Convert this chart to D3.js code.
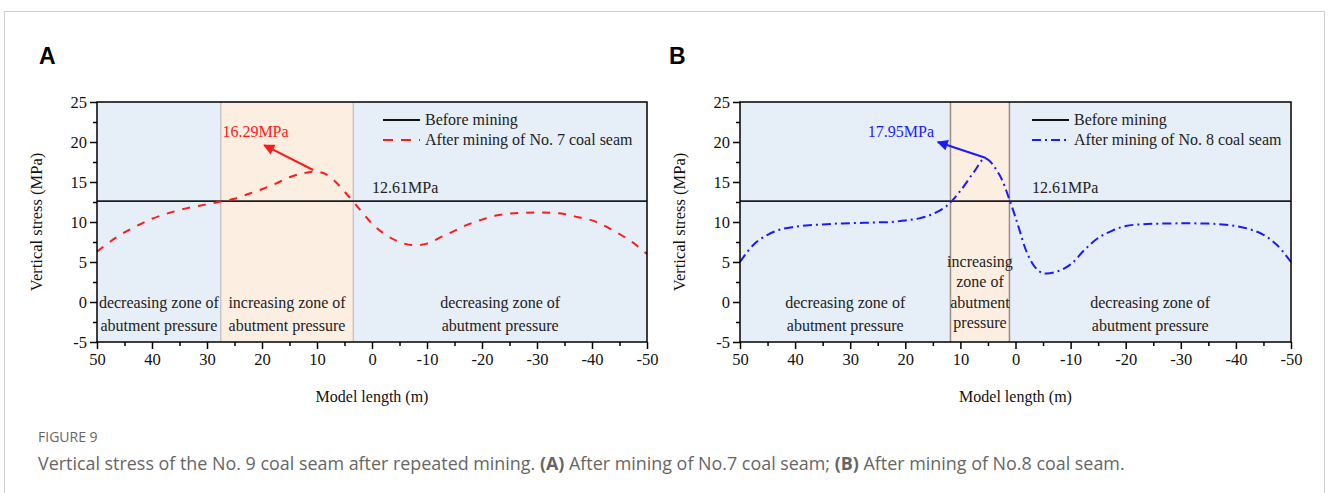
<!DOCTYPE html>
<html>
<head>
<meta charset="utf-8">
<script src="https://cdn.jsdelivr.net/npm/d3@7"></script>
<style>
  html, body { margin: 0; padding: 0; background: #fff; }
  svg { display: block; }
</style>
</head>
<body>
<svg id="fig" width="1328" height="493"></svg>
<script>
// Model length positions (m) and vertical stress (MPa)
const xA = [50, 47.5, 45, 42.5, 40, 37.5, 35, 32.5, 30, 27.5, 25, 22.5, 20, 17.5, 15, 12.5, 10.5, 8.75, 7, 5, 2.5, 0, -2.5, -5, -7.5, -10, -12.5, -15, -17.5, -20, -22.5, -25, -27.5, -30, -32.5, -35, -37.5, -40, -42.5, -45, -47.5, -50];
const stressA = [6.3, 7.6, 8.7, 9.6, 10.4, 11.0, 11.5, 11.9, 12.2, 12.55, 12.9, 13.5, 14.1, 14.8, 15.6, 16.1, 16.29, 16.1, 15.25, 13.8, 11.8, 9.8, 8.4, 7.5, 7.1, 7.3, 8.1, 8.9, 9.7, 10.3, 10.8, 11.05, 11.15, 11.2, 11.15, 11.0, 10.6, 10.2, 9.45, 8.5, 7.4, 6.0];

const xB = [50, 47.5, 45, 42.5, 40, 37.5, 35, 32.5, 30, 27.5, 25, 22.5, 20, 17.5, 15, 12.5, 10, 7.5, 5.5, 3, 1, -0.5, -2, -3.5, -5, -7.5, -10, -12.5, -15, -17.5, -20, -22.5, -25, -30, -35, -37.5, -40, -42.5, -45, -47.5, -50];
const stressB = [5.0, 7.2, 8.4, 9.1, 9.4, 9.6, 9.7, 9.8, 9.85, 9.9, 9.95, 10.0, 10.2, 10.45, 11.0, 12.0, 13.9, 16.3, 17.95, 16.0, 12.6, 9.5, 6.3, 4.4, 3.6, 3.8, 4.7, 6.5, 8.0, 8.9, 9.5, 9.7, 9.78, 9.83, 9.8, 9.7, 9.5, 9.1, 8.4, 7.1, 5.0];

const baseline = 12.61;
const xTicks = [50, 40, 30, 20, 10, 0, -10, -20, -30, -40, -50];
const yTicks = [-5, 0, 5, 10, 15, 20, 25];

// Zone boundaries (m) where the curves cross the pre-mining stress
const zonesA = [[50, 27.5, "dec"], [27.5, 3.4, "inc"], [3.4, -50, "dec"]];
const zonesB = [[50, 11.8, "dec"], [11.8, 1.1, "inc"], [1.1, -50, "dec"]];
const zoneLabelsA = [["decreasing zone of", "abutment pressure"], ["increasing zone of", "abutment pressure"], ["decreasing zone of", "abutment pressure"]];
const zoneLabelsB = [["decreasing zone of", "abutment pressure"], ["increasing", "zone of", "abutment", "pressure"], ["decreasing zone of", "abutment pressure"]];

const peakA = { label: "16.29MPa", lx: 27.2, ly: 20.6, ax0: 10.7, ay0: 16.5, ax1: 19.6, ay1: 19.6 };
const peakB = { label: "17.95MPa", lx: 26.8, ly: 20.6, ax0: 5.35, ay0: 18.0, ax1: 14.1, ay1: 20.0 };

const svg = d3.select("#fig");
const serif = "'Liberation Serif', 'Times New Roman', serif";
const sans = "'Open Sans', 'Noto Sans', sans-serif";

// Outer figure frame
svg.append("rect").attr("x", 4.5).attr("y", 11.5).attr("width", 1320).attr("height", 520)
  .attr("fill", "none").attr("stroke", "#cfcfcf").attr("stroke-width", 1);

const defs = svg.append("defs");
function arrowMarker(id, color) {
  defs.append("marker").attr("id", id).attr("viewBox", "0 0 10 10")
    .attr("refX", 9).attr("refY", 5).attr("markerWidth", 6).attr("markerHeight", 5.5)
    .attr("markerUnits", "strokeWidth").attr("orient", "auto")
    .append("path").attr("d", "M0,0 L10,5 L0,10 z").attr("fill", color);
}
arrowMarker("arrowRed", "#ff1a1a");
arrowMarker("arrowBlue", "#1a1aff");

function drawPanel(opt) {
  const g = svg.append("g");
  const x = d3.scaleLinear().domain([50, -50]).range([opt.left, opt.right]);
  const y = d3.scaleLinear().domain([-5, 25]).range([342, 102]);

  // Zone backgrounds
  opt.zones.forEach(z => {
    g.append("rect").attr("x", x(z[0])).attr("y", y(25))
      .attr("width", x(z[1]) - x(z[0])).attr("height", y(-5) - y(25))
      .attr("fill", z[2] === "inc" ? "#fdeee2" : "#e6eef7");
  });
  // Zone boundary lines
  opt.zones.slice(1).forEach(z => {
    g.append("line").attr("x1", x(z[0])).attr("x2", x(z[0])).attr("y1", y(25)).attr("y2", y(-5))
      .attr("stroke", opt.boundaryColor).attr("stroke-width", 1.5);
  });

  // Zone labels
  opt.zones.forEach((z, i) => {
    const lines = opt.zoneLabels[i];
    const cx = (x(z[0]) + x(z[1])) / 2;
    const t = g.append("text").attr("font-family", serif).attr("font-size", 16).attr("fill", "#222")
      .attr("text-anchor", "middle");
    const y0 = lines.length === 2 ? 308 : 267;
    const dy = lines.length === 2 ? 23 : 20.3;
    lines.forEach((s, j) => {
      t.append("tspan").attr("x", cx).attr("y", y0 + j * dy).text(s);
    });
  });

  // Pre-mining stress line
  g.append("line").attr("x1", x(50)).attr("x2", x(-50)).attr("y1", y(baseline)).attr("y2", y(baseline))
    .attr("stroke", "#1c1c24").attr("stroke-width", 1.6);
  g.append("text").attr("x", x(opt.baseLabelX)).attr("y", y(13.6))
    .attr("font-family", serif).attr("font-size", 16).attr("fill", "#222").text(baseline.toFixed(2) + "MPa");

  // Stress curve after mining
  const data = opt.xs.map((d, i) => [d, opt.vs[i]]);
  const line = d3.line().x(d => x(d[0])).y(d => y(d[1])).curve(d3.curveCatmullRom.alpha(0.5));
  g.append("path").datum(data).attr("d", line).attr("fill", "none")
    .attr("stroke", opt.color).attr("stroke-width", 2).attr("stroke-dasharray", opt.dash);

  // Peak annotation
  const p = opt.peak;
  g.append("text").attr("x", x(p.lx)).attr("y", y(p.ly)).attr("font-family", serif).attr("font-size", 16)
    .attr("fill", opt.color).text(p.label);
  g.append("line").attr("x1", x(p.ax0)).attr("y1", y(p.ay0)).attr("x2", x(p.ax1)).attr("y2", y(p.ay1))
    .attr("stroke", opt.color).attr("stroke-width", 2).attr("marker-end", `url(#${opt.marker})`);

  // Legend
  const lx = opt.legendX;
  g.append("line").attr("x1", lx).attr("x2", lx + 37).attr("y1", 120).attr("y2", 120)
    .attr("stroke", "#111").attr("stroke-width", 1.8);
  g.append("line").attr("x1", lx).attr("x2", lx + 37).attr("y1", 140).attr("y2", 140)
    .attr("stroke", opt.color).attr("stroke-width", 2).attr("stroke-dasharray", opt.legendDash);
  g.append("text").attr("x", lx + 42).attr("y", 125).attr("font-family", serif).attr("font-size", 16)
    .attr("fill", "#222").text("Before mining");
  g.append("text").attr("x", lx + 42).attr("y", 145).attr("font-family", serif).attr("font-size", 16)
    .attr("fill", "#222").text(opt.legendText);

  // Plot frame
  g.append("rect").attr("x", x(50)).attr("y", y(25)).attr("width", x(-50) - x(50)).attr("height", y(-5) - y(25))
    .attr("fill", "none").attr("stroke", "#000").attr("stroke-width", 1.5);

  // Axes with major and minor ticks (plain hyphen for negatives)
  const fmt = d => String(d);
  const xAxis = d3.axisBottom(x).tickValues(xTicks).tickSize(7).tickPadding(4).tickFormat(fmt);
  const xMinor = d3.axisBottom(x).tickValues(d3.range(45, -50, -10)).tickSize(4).tickFormat("");
  const yAxis = d3.axisLeft(y).tickValues(yTicks).tickSize(7).tickPadding(3).tickFormat(fmt);
  const yMinor = d3.axisLeft(y).tickValues(d3.range(-2.5, 25, 5)).tickSize(4).tickFormat("");

  [xAxis, xMinor].forEach(ax => {
    const a = g.append("g").attr("transform", `translate(0,${y(-5)})`).call(ax);
    a.select(".domain").remove();
    a.selectAll("line").attr("stroke", "#000").attr("stroke-width", 1.5);
    a.selectAll("text").attr("font-family", serif).attr("font-size", 16.5).attr("fill", "#111");
  });
  [yAxis, yMinor].forEach(ax => {
    const a = g.append("g").attr("transform", `translate(${x(50)},0)`).call(ax);
    a.select(".domain").remove();
    a.selectAll("line").attr("stroke", "#000").attr("stroke-width", 1.5);
    a.selectAll("text").attr("font-family", serif).attr("font-size", 16.5).attr("fill", "#111");
  });

  // Axis titles
  g.append("text").attr("x", (x(50) + x(-50)) / 2).attr("y", 402).attr("text-anchor", "middle")
    .attr("font-family", serif).attr("font-size", 16).attr("fill", "#111").text("Model length (m)");
  g.append("text").attr("transform", `translate(${opt.left - 55},222) rotate(-90)`).attr("text-anchor", "middle")
    .attr("font-family", serif).attr("font-size", 16.5).attr("fill", "#111").text("Vertical stress (MPa)");

  // Panel letter
  g.append("text").attr("x", opt.letterX).attr("y", 64).attr("font-family", "'Liberation Sans', Arial, sans-serif")
    .attr("font-weight", "bold").attr("font-size", 23).attr("fill", "#000").text(opt.letter);
}

drawPanel({
  left: 97, right: 647, xs: xA, vs: stressA, color: "#ff1a1a", dash: "8,8", legendDash: "10,8",
  zones: zonesA, zoneLabels: zoneLabelsA, boundaryColor: "#c9c6c4", peak: peakA, marker: "arrowRed",
  legendX: 383, legendText: "After mining of No. 7 coal seam", baseLabelX: 0, letter: "A", letterX: 39
});
drawPanel({
  left: 740, right: 1291, xs: xB, vs: stressB, color: "#1a1aff", dash: "9,4,2,4", legendDash: "9,4,2,4",
  zones: zonesB, zoneLabels: zoneLabelsB, boundaryColor: "#9d8d84", peak: peakB, marker: "arrowBlue",
  legendX: 1032, legendText: "After mining of No. 8 coal seam", baseLabelX: -3, letter: "B", letterX: 669
});

// Figure caption
svg.append("text").attr("x", 38).attr("y", 442).attr("font-family", sans).attr("font-size", 14)
  .attr("fill", "#666").text("FIGURE 9");
const cap = svg.append("text").attr("x", 38).attr("y", 470).attr("font-family", sans).attr("font-size", 17.9)
  .attr("fill", "#666");
cap.append("tspan").text("Vertical stress of the No. 9 coal seam after repeated mining. ");
cap.append("tspan").attr("font-weight", "bold").text("(A)");
cap.append("tspan").text(" After mining of No.7 coal seam; ");
cap.append("tspan").attr("font-weight", "bold").text("(B)");
cap.append("tspan").text(" After mining of No.8 coal seam.");
</script>
</body>
</html>
